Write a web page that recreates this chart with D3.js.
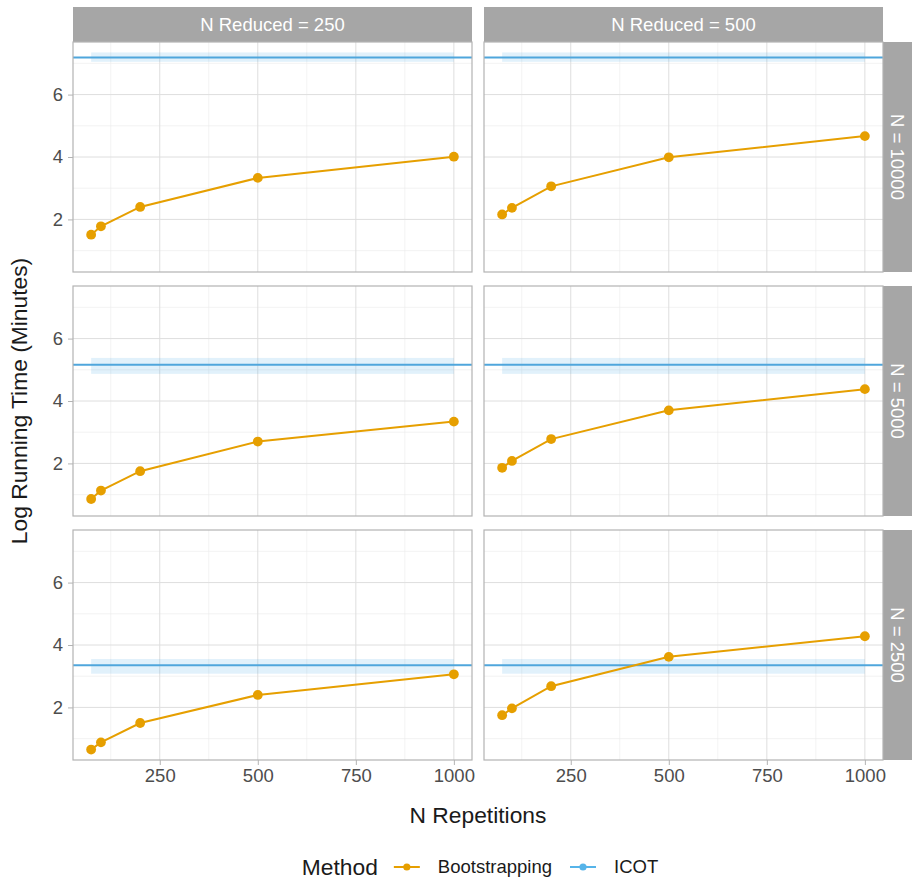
<!DOCTYPE html>
<html><head><meta charset="utf-8">
<script src="https://cdn.jsdelivr.net/npm/d3@7"></script>
<style>body{margin:0;background:#fff} text{font-family:"Liberation Sans",Arial,Helvetica,sans-serif}</style>
</head><body><svg id="c" width="915" height="880"></svg>
<script>
// ---- data ----
const reps = [75, 100, 200, 500, 1000];
const nRows = ["N = 10000", "N = 5000", "N = 2500"];
const nReducedCols = ["N Reduced = 250", "N Reduced = 500"];
const boot_N10000_R250 = [1.51, 1.78, 2.40, 3.33, 4.01];
const boot_N10000_R500 = [2.16, 2.37, 3.06, 3.99, 4.67];
const boot_N5000_R250  = [0.86, 1.13, 1.75, 2.70, 3.34];
const boot_N5000_R500  = [1.86, 2.08, 2.78, 3.70, 4.38];
const boot_N2500_R250  = [0.65, 0.88, 1.50, 2.40, 3.06];
const boot_N2500_R500  = [1.75, 1.97, 2.68, 3.62, 4.28];
const icotMean = [7.19, 5.16, 3.35];
const icotLow  = [7.05, 4.87, 3.08];
const icotHigh = [7.35, 5.38, 3.55];
const xTicks = [250, 500, 750, 1000];
const xMinor = [125, 375, 625, 875];
const yTicks = [2, 4, 6];
const yMinor = [1, 3, 5, 7];
const legendLabels = ["Bootstrapping", "ICOT"];

const bootGrid = [
  [boot_N10000_R250, boot_N10000_R500],
  [boot_N5000_R250, boot_N5000_R500],
  [boot_N2500_R250, boot_N2500_R500]
];

// ---- layout ----
const ORANGE = "#E69F00", BLUE = "#56B4E9", BLUE_LINE = "#4FA6DC";
const mLeft = 73, panelW = 399, hgap = 12, mTop = 7, stripH = 35, panelH = 230, vgap = 14, stripW = 29;
const colX = c => mLeft + c * (panelW + hgap);
const rowY = r => mTop + stripH + r * (panelH + vgap);
const SMALL = 18.5, BIG = 22.8;

function expand(ext) { const d = ext[1] - ext[0]; return [ext[0] - 0.05 * d, ext[1] + 0.05 * d]; }
const allY = bootGrid.flat(2).concat(icotLow, icotHigh);
const x = d3.scaleLinear().domain(expand(d3.extent(reps))).range([0, panelW]);
const y = d3.scaleLinear().domain(expand(d3.extent(allY))).range([panelH, 0]);

const svg = d3.select("#c");
const FONT = "Liberation Sans, Arial, sans-serif";

// strips top
nReducedCols.forEach((lab, c) => {
  svg.append("rect").attr("x", colX(c)).attr("y", mTop).attr("width", panelW).attr("height", stripH).attr("fill", "#A6A6A6");
  svg.append("text").attr("x", colX(c) + panelW / 2).attr("y", mTop + stripH / 2).attr("dy", "0.35em")
    .attr("text-anchor", "middle").attr("fill", "#fff").attr("font-size", SMALL).text(lab);
});
// strips right
nRows.forEach((lab, r) => {
  const sx = colX(1) + panelW, sy = rowY(r);
  svg.append("rect").attr("x", sx).attr("y", sy).attr("width", stripW).attr("height", panelH).attr("fill", "#A6A6A6");
  svg.append("text").attr("transform", `translate(${sx + stripW / 2},${sy + panelH / 2}) rotate(90)`)
    .attr("dy", "0.35em").attr("text-anchor", "middle").attr("fill", "#fff").attr("font-size", SMALL).text(lab);
});

const line = d3.line().x((d, i) => x(reps[i])).y(d => y(d));

for (let r = 0; r < 3; r++) {
  for (let c = 0; c < 2; c++) {
    const g = svg.append("g").attr("transform", `translate(${colX(c)},${rowY(r)})`);
    // grid
    g.selectAll(".xm").data(xMinor).join("line").attr("x1", d => x(d)).attr("x2", d => x(d)).attr("y1", 0).attr("y2", panelH)
      .attr("stroke", "#EBEBEB").attr("stroke-width", 0.6);
    g.selectAll(".ym").data(yMinor).join("line").attr("y1", d => y(d)).attr("y2", d => y(d)).attr("x1", 0).attr("x2", panelW)
      .attr("stroke", "#EBEBEB").attr("stroke-width", 0.6);
    g.selectAll(".xM").data(xTicks).join("line").attr("x1", d => x(d)).attr("x2", d => x(d)).attr("y1", 0).attr("y2", panelH)
      .attr("stroke", "#DEDEDE").attr("stroke-width", 1);
    g.selectAll(".yM").data(yTicks).join("line").attr("y1", d => y(d)).attr("y2", d => y(d)).attr("x1", 0).attr("x2", panelW)
      .attr("stroke", "#DEDEDE").attr("stroke-width", 1);
    // ICOT ribbon + line
    g.append("rect").attr("x", x(reps[0])).attr("width", x(reps[reps.length - 1]) - x(reps[0]))
      .attr("y", y(icotHigh[r])).attr("height", y(icotLow[r]) - y(icotHigh[r]))
      .attr("fill", BLUE).attr("fill-opacity", 0.18);
    g.append("line").attr("x1", 0).attr("x2", panelW).attr("y1", y(icotMean[r])).attr("y2", y(icotMean[r]))
      .attr("stroke", BLUE_LINE).attr("stroke-width", 2);
    // bootstrapping
    const vals = bootGrid[r][c];
    g.append("path").attr("d", line(vals)).attr("fill", "none").attr("stroke", ORANGE).attr("stroke-width", 2);
    g.selectAll(".pt").data(vals).join("circle").attr("cx", (d, i) => x(reps[i])).attr("cy", d => y(d))
      .attr("r", 4.9).attr("fill", ORANGE);
    // border
    g.append("rect").attr("width", panelW).attr("height", panelH).attr("fill", "none").attr("stroke", "#B3B3B3").attr("stroke-width", 1.2);

    // axes
    if (r === 2) {
      const ax = g.append("g").attr("transform", `translate(0,${panelH})`)
        .call(d3.axisBottom(x).tickValues(xTicks).tickFormat(d3.format("d")).tickSize(5).tickPadding(4));
      ax.select(".domain").remove();
      ax.selectAll("line").attr("stroke", "#B3B3B3");
      ax.selectAll("text").attr("fill", "#4D4D4D").attr("font-size", SMALL).attr("font-family", FONT);
    }
    if (c === 0) {
      const ay = g.append("g").call(d3.axisLeft(y).tickValues(yTicks).tickFormat(d3.format("d")).tickSize(5).tickPadding(5));
      ay.select(".domain").remove();
      ay.selectAll("line").attr("stroke", "#B3B3B3");
      ay.selectAll("text").attr("fill", "#4D4D4D").attr("font-size", SMALL).attr("font-family", FONT);
    }
  }
}

// axis titles
const plotCx = (mLeft + colX(1) + panelW) / 2;
svg.append("text").attr("x", plotCx).attr("y", 815).attr("dy", "0.35em").attr("text-anchor", "middle")
  .attr("font-size", BIG).attr("fill", "#1A1A1A").text("N Repetitions");
svg.append("text").attr("transform", `translate(19,${(rowY(0) + rowY(2) + panelH) / 2}) rotate(-90)`)
  .attr("dy", "0.35em").attr("text-anchor", "middle").attr("font-size", BIG).attr("fill", "#1A1A1A").text("Log Running Time (Minutes)");

// legend
const lg = svg.append("g");
const ly = 867;
const t0 = lg.append("text").attr("y", ly).attr("dy", "0.35em").attr("font-size", BIG).attr("fill", "#1A1A1A").text("Method");
let cx = t0.node().getComputedTextLength() + 16;
const cols = [ORANGE, BLUE];
legendLabels.forEach((lab, i) => {
  lg.append("line").attr("x1", cx).attr("x2", cx + 26).attr("y1", ly).attr("y2", ly).attr("stroke", cols[i]).attr("stroke-width", 2);
  lg.append("circle").attr("cx", cx + 13).attr("cy", ly).attr("r", 3.6).attr("fill", cols[i]);
  cx += 26 + 18;
  const t = lg.append("text").attr("x", cx).attr("y", ly).attr("dy", "0.35em").attr("font-size", SMALL).attr("fill", "#1A1A1A").text(lab);
  cx += t.node().getComputedTextLength() + 18;
});
const totalW = cx - 18;
lg.attr("transform", `translate(${480 - totalW / 2},0)`);
</script></body></html>
